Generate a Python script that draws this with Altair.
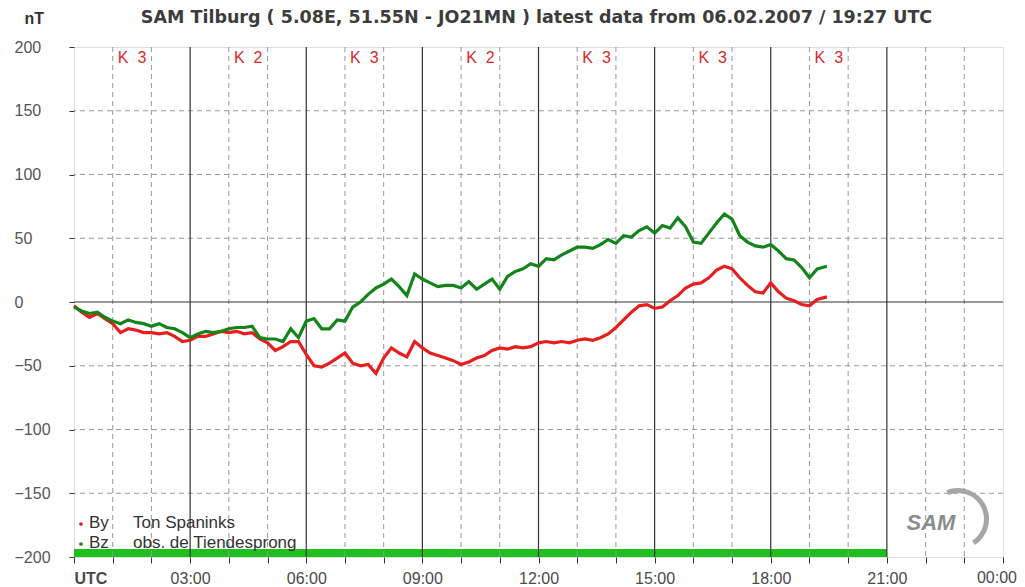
import altair as alt
import pandas as pd

# ---- data ----
hours = [0.0, 0.2, 0.4, 0.6, 0.8, 1.0, 1.2, 1.4, 1.6, 1.8,
         2.0, 2.2, 2.4, 2.6, 2.8, 3.0, 3.2, 3.4, 3.6, 3.8,
         4.0, 4.2, 4.4, 4.6, 4.8, 5.0, 5.2, 5.4, 5.6, 5.8,
         6.0, 6.2, 6.4, 6.6, 6.8, 7.0, 7.2, 7.4, 7.6, 7.8,
         8.0, 8.2, 8.4, 8.6, 8.8, 9.0, 9.2, 9.4, 9.6, 9.8,
         10.0, 10.2, 10.4, 10.6, 10.8, 11.0, 11.2, 11.4, 11.6, 11.8,
         12.0, 12.2, 12.4, 12.6, 12.8, 13.0, 13.2, 13.4, 13.6, 13.8,
         14.0, 14.2, 14.4, 14.6, 14.8, 15.0, 15.2, 15.4, 15.6, 15.8,
         16.0, 16.2, 16.4, 16.6, 16.8, 17.0, 17.2, 17.4, 17.6, 17.8,
         18.0, 18.2, 18.4, 18.6, 18.8, 19.0, 19.2, 19.45]

by_vals = [-3, -8, -12, -9, -13, -17, -24, -21, -22, -24,
           -24, -25, -24, -27, -31, -30, -27, -27, -25, -23,
           -24, -23, -25, -24, -29, -32, -38, -35, -31, -31,
           -41, -50, -51, -48, -44, -40, -48, -50, -49, -56,
           -44, -36, -40, -43, -31, -36, -40, -42, -44, -46,
           -49, -47, -44, -42, -38, -36, -37, -35, -36, -35,
           -32, -31, -32, -31, -32, -30, -29, -30, -28, -25,
           -20, -14, -8, -3, -2, -5, -4, 1, 5, 11,
           14, 15, 19, 25, 28, 26, 19, 13, 8, 7,
           15, 8, 3, 1, -2, -3, 2, 4]

bz_vals = [-4, -7, -9, -8, -12, -15, -17, -14, -16, -17,
           -19, -17, -20, -21, -24, -28, -25, -23, -24, -23,
           -21, -20, -20, -19, -28, -29, -29, -31, -21, -28,
           -15, -13, -21, -21, -14, -15, -4, 0, 6, 11,
           14, 18, 12, 5, 22, 18, 15, 12, 13, 13,
           11, 16, 10, 14, 18, 10, 20, 24, 26, 30,
           28, 34, 33, 37, 40, 43, 43, 42, 45, 49,
           46, 52, 51, 56, 59, 54, 60, 58, 66, 59,
           47, 46, 54, 62, 69, 65, 52, 47, 44, 43,
           45, 40, 34, 33, 27, 19, 26, 28]

k_hours = [1.5, 4.5, 7.5, 10.5, 13.5, 16.5, 19.5]
k_labels = ["K\u00a0\u00a03", "K\u00a0\u00a02", "K\u00a0\u00a03", "K\u00a0\u00a02",
            "K\u00a0\u00a03", "K\u00a0\u00a03", "K\u00a0\u00a03"]

hour_ticks = list(range(25))
dash_hours = [h for h in hour_ticks if h % 3 != 0]
solid_hours = [3, 6, 9, 12, 15, 18, 21]
y_ticks = [-200, -150, -100, -50, 0, 50, 100, 150, 200]
dash_levels = [-150, -100, -50, 50, 100, 150]
end_hour, end_label = 24, "00:00"

bar_start, bar_end = 0, 21
bar_low, bar_high = -200, -193.7

title_text = "SAM Tilburg ( 5.08E, 51.55N - JO21MN ) latest data from 06.02.2007 / 19:27 UTC"
legend_keys = ["By", "Bz"]
legend_names = ["Ton Spaninks", "obs. de Tiendesprong"]
series_colors = ["#e61e1e", "#13841a"]

W, H = 929, 510
FONT = "Liberation Sans"

xscale = alt.Scale(domain=[0, 24], nice=False, zero=False)
yscale = alt.Scale(domain=[-200, 200], nice=False, zero=False)

n = len(hours)
df = pd.DataFrame({
    "h": hours * 2,
    "v": by_vals + bz_vals,
    "s": ["By"] * n + ["Bz"] * n,
})

label_expr = ("datum.value % 3 != 0 || datum.value == 24 ? '' : datum.value == 0 ? 'UTC' : "
              "(datum.value < 10 ? '0' : '') + datum.value + ':00'")

xaxis = alt.Axis(values=hour_ticks, labelExpr=label_expr, grid=False, domain=False,
                 tickSize=6, tickColor="#333333", labelFontSize=16, labelColor="#4a4a4a",
                 labelFont=FONT, labelPadding=7, title=None, labelFlush=False,
                 labelOverlap=False,
                 labelAlign={"condition": {"test": "datum.value == 0", "value": "left"},
                             "value": "center"},
                 labelFontWeight={"condition": {"test": "datum.value == 0", "value": "bold"},
                                  "value": "normal"})

yaxis = alt.Axis(values=y_ticks, grid=False, domain=False, tickSize=5, tickColor="#333333",
                 labelAlign="left", labelPadding=55, labelFontSize=16, labelColor="#555555",
                 labelFont=FONT, title="nT", titleAngle=0, titleX=-50, titleY=-29,
                 titleAlign="left", titleBaseline="middle", titleFontSize=16,
                 titleFontWeight="bold", titleColor="#333333", titleFont=FONT)


def X(field):
    return alt.X(field, scale=xscale, axis=xaxis)


def Y(field):
    return alt.Y(field, scale=yscale, axis=yaxis)


# green status bar
bar = alt.Chart(pd.DataFrame({"a": [bar_start], "b": [bar_end], "lo": [bar_low], "hi": [bar_high]})).mark_rect(
    color="#1fbf1f").encode(x=X("a:Q"), x2="b:Q", y=Y("lo:Q"), y2="hi:Q")

vdash = alt.Chart(pd.DataFrame({"h": dash_hours})).mark_rule(
    color="#999999", strokeDash=[5, 4], strokeWidth=1).encode(x=X("h:Q"))
vsolid = alt.Chart(pd.DataFrame({"h": solid_hours})).mark_rule(
    color="#333333", strokeWidth=1.2).encode(x=X("h:Q"))
hdash = alt.Chart(pd.DataFrame({"v": dash_levels})).mark_rule(
    color="#999999", strokeDash=[5, 4], strokeWidth=1).encode(y=Y("v:Q"))
hzero = alt.Chart(pd.DataFrame({"v": [0]})).mark_rule(
    color="#333333", strokeWidth=1.2).encode(y=Y("v:Q"))

lines = alt.Chart(df).mark_line(strokeWidth=3.2, interpolate="linear").encode(
    x=X("h:Q"),
    y=Y("v:Q"),
    color=alt.Color("s:N", scale=alt.Scale(domain=legend_keys, range=series_colors), legend=None),
    order=alt.Order("h:Q"),
)

klab = alt.Chart(pd.DataFrame({"h": k_hours, "t": k_labels})).mark_text(
    color="#d92a2a", fontSize=16, font=FONT, baseline="middle", align="center").encode(
    x=X("h:Q"), y=alt.value(11), text="t:N")

# last x label, kept inside the page edge like in the reference
endlab = alt.Chart(pd.DataFrame({"h": [end_hour], "t": [end_label]})).mark_text(
    color="#4a4a4a", fontSize=16, font=FONT, baseline="middle", align="right", dx=14).encode(
    x=X("h:Q"), y=alt.value(H + 21), text="t:N")

title = alt.Chart(pd.DataFrame({"t": [title_text]})).mark_text(
    fontSize=17.5, fontWeight="bold", font="DejaVu Sans", color="#3c3c3c", align="center",
    baseline="middle").encode(x=alt.value(W / 2 - 2), y=alt.value(-29), text="t:N")

legend_layers = []
for i, (k, name, col) in enumerate(zip(legend_keys, legend_names, series_colors)):
    yy = 476 + 20 * i
    d = pd.DataFrame({"k": [k], "n": [name]})
    legend_layers.append(alt.Chart(d).mark_point(filled=True, size=14, color=col, opacity=1).encode(
        x=alt.value(7), y=alt.value(yy + 1)))
    legend_layers.append(alt.Chart(d).mark_text(fontSize=17, font=FONT, color="#333333",
                                                align="left", baseline="middle").encode(
        x=alt.value(15), y=alt.value(yy), text="k:N"))
    legend_layers.append(alt.Chart(d).mark_text(fontSize=17, font=FONT, color="#333333",
                                                align="left", baseline="middle").encode(
        x=alt.value(59), y=alt.value(yy), text="n:N"))

logo_arc = alt.Chart(pd.DataFrame({"a": [1]})).mark_arc(
    radius=31, radius2=26, theta=5.9, theta2=8.85, color="#a6a6a6").encode(
    x=alt.value(884), y=alt.value(472))
logo_txt = alt.Chart(pd.DataFrame({"t": ["SAM"]})).mark_text(
    fontSize=22, fontStyle="italic", fontWeight="bold", font=FONT, color="#8c8c8c",
    align="center", baseline="middle").encode(x=alt.value(857), y=alt.value(476), text="t:N")

chart = alt.layer(
    bar, vdash, hdash, vsolid, hzero, lines, klab, endlab, title, logo_arc, logo_txt, *legend_layers
).properties(
    width=W, height=H,
    autosize=alt.AutoSizeParams(type="none"),
    padding={"left": 66, "top": 39, "right": 14, "bottom": 30},
).configure_view(stroke="#333333", strokeWidth=1.2).configure(background="white")

chart.save("out.html", embed_options={"renderer": "svg", "actions": False})
